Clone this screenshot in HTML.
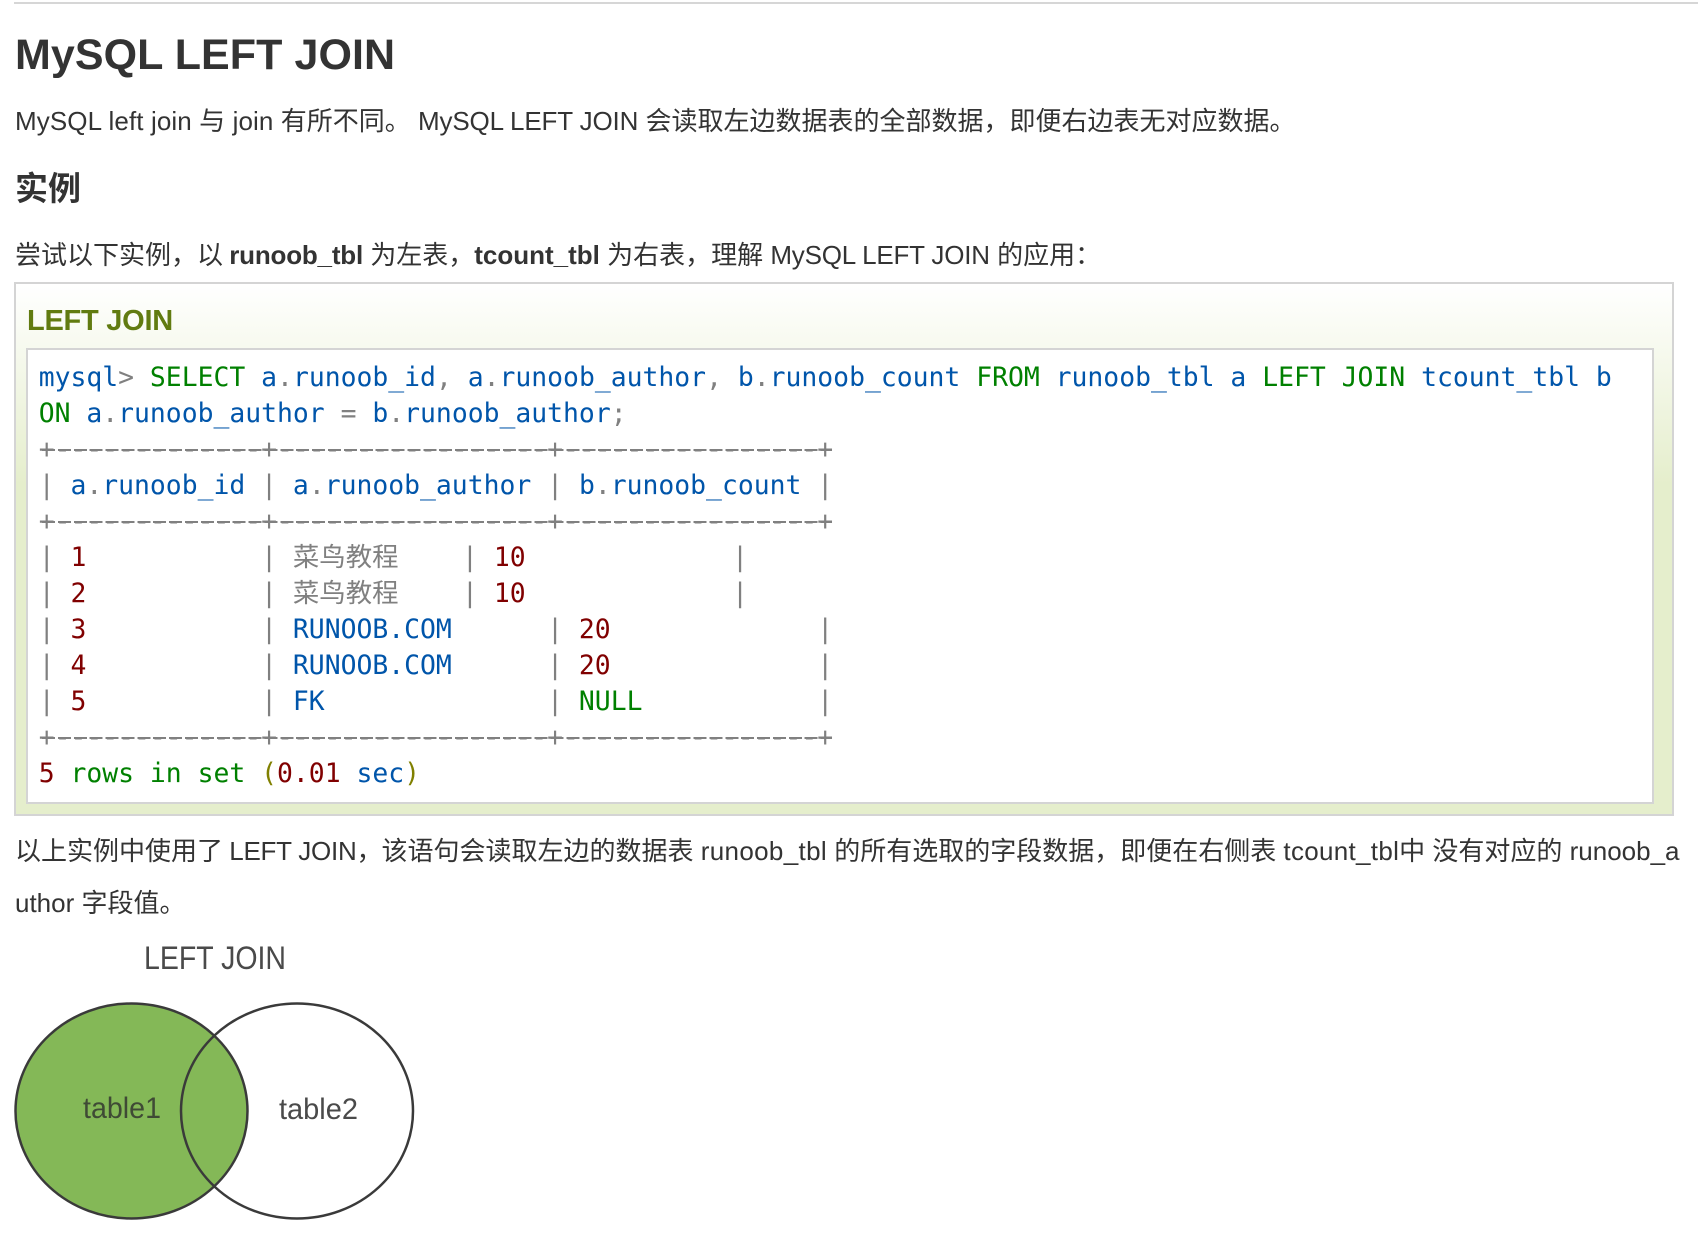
<!DOCTYPE html>
<html lang="zh"><head><meta charset="utf-8"><title>MySQL LEFT JOIN</title>
<style>
html,body{margin:0;padding:0;background:#fff;width:1698px;height:1236px;overflow:hidden}
body{position:relative;font-family:"Liberation Sans","Noto Sans CJK SC",sans-serif;color:#333}
.t{position:absolute;white-space:pre;left:15px;font-size:26px;line-height:40px}
b{font-weight:bold}
#rule{position:absolute;left:14px;right:0;top:2px;height:2px;background:#d6d6d6}
#box{position:absolute;left:14px;top:282px;width:1656px;height:530px;border:2px solid #d4d4d4;background:linear-gradient(#fff 0,#e5eecc 200px,#e5eecc 100%)}
#inner{position:absolute;left:26px;top:348px;width:1624px;height:452px;border:2px solid #d4d4d4;background:#fff}
pre{position:absolute;margin:0;left:38.7px;top:360px;font-family:"DejaVu Sans Mono","Noto Sans CJK SC",monospace;font-size:26.4px;line-height:36px;color:#808080}
.p{color:#0055aa}.k{color:#008000}.n{color:#800000}.o{color:#808000}
.d{position:absolute;left:42px;width:790px;height:2px;background:repeating-linear-gradient(90deg,#808080 0,#808080 13px,transparent 13px,transparent 15.89px)}
</style></head><body>
<div id="rule"></div>
<div class="t" style="top:29px;font-size:43px;line-height:52px;font-weight:bold;letter-spacing:.07px">MySQL LEFT JOIN</div>
<div class="t" style="top:101px"><span style="letter-spacing:.1px">MySQL left join 与 join </span>有所不同。 <span style="letter-spacing:-.15px">MySQL LEFT JOIN</span> 会读取左边数据表的全部数据，即便右边表无对应数据。</div>
<div class="t" style="top:169px;font-size:33px;font-weight:bold">实例</div>
<div class="t" style="top:235px">尝试以下实例，以 <b style="margin-left:-1px;letter-spacing:-.2px">runoob_tbl</b> 为左表，<b>tcount_tbl</b> 为右表，理解 <span style="letter-spacing:-.2px">MySQL LEFT JOIN</span> 的应用：</div>
<div id="box"></div>
<div class="t" style="left:27px;top:301px;font-size:29px;font-weight:bold;color:#617b10;letter-spacing:-.25px">LEFT JOIN</div>
<div id="inner"></div>
<pre><span class="p">mysql</span>&gt; <span class="k">SELECT</span> <span class="p">a</span>.<span class="p">runoob_id</span>, <span class="p">a</span>.<span class="p">runoob_author</span>, <span class="p">b</span>.<span class="p">runoob_count</span> <span class="k">FROM</span> <span class="p">runoob_tbl a</span> <span class="k">LEFT JOIN</span> <span class="p">tcount_tbl b</span>
<span class="k">ON</span> <span class="p">a</span>.<span class="p">runoob_author</span> = <span class="p">b</span>.<span class="p">runoob_author</span>;
+-------------+-----------------+----------------+
| <span class="p">a</span>.<span class="p">runoob_id</span> | <span class="p">a</span>.<span class="p">runoob_author</span> | <span class="p">b</span>.<span class="p">runoob_count</span> |
+-------------+-----------------+----------------+
| <span class="n">1</span>           | 菜鸟教程    | <span class="n">10</span>             |
| <span class="n">2</span>           | 菜鸟教程    | <span class="n">10</span>             |
| <span class="n">3</span>           | <span class="p">RUNOOB.COM</span>      | <span class="n">20</span>             |
| <span class="n">4</span>           | <span class="p">RUNOOB.COM</span>      | <span class="n">20</span>             |
| <span class="n">5</span>           | <span class="p">FK</span>              | <span class="k">NULL</span>           |
+-------------+-----------------+----------------+
<span class="n">5</span> <span class="k">rows in set</span> <span class="o">(</span><span class="n">0.01</span> <span class="p">sec</span><span class="o">)</span></pre>
<div class="d" style="top:448.5px"></div>
<div class="d" style="top:520.5px"></div>
<div class="d" style="top:736.5px"></div>
<div class="t" style="top:831px">以上实例中使用了 <span style="margin-left:-1px;letter-spacing:-.25px">LEFT JOIN</span><span style="margin-right:-1px">，</span>该语句会读取左边的数据表 <span style="letter-spacing:.33px">runoob_tbl</span> 的所有选取的字段数据，即便在右侧表 <span style="letter-spacing:.3px">tcount_tbl</span>中 没有对应的 runoob_a</div>
<div class="t" style="top:883px">uthor 字段值。</div>
<svg style="position:absolute;left:0;top:0" width="1698" height="1236" viewBox="0 0 1698 1236">
<ellipse cx="131.5" cy="1111" rx="116" ry="107.5" fill="#84b857" stroke="#3a3a3a" stroke-width="2.5"/>
<ellipse cx="297" cy="1111" rx="116" ry="107.5" fill="none" stroke="#3a3a3a" stroke-width="2.5"/>
<text x="144" y="969" font-family="Liberation Sans" font-size="32" fill="#4a4a4a" textLength="142" lengthAdjust="spacingAndGlyphs">LEFT JOIN</text>
<text x="83" y="1118" font-family="Liberation Sans" font-size="30" fill="#3f4a35" textLength="78" lengthAdjust="spacingAndGlyphs">table1</text>
<text x="279" y="1119" font-family="Liberation Sans" font-size="30" fill="#4a4a4a" textLength="79" lengthAdjust="spacingAndGlyphs">table2</text>
</svg>
</body></html>
